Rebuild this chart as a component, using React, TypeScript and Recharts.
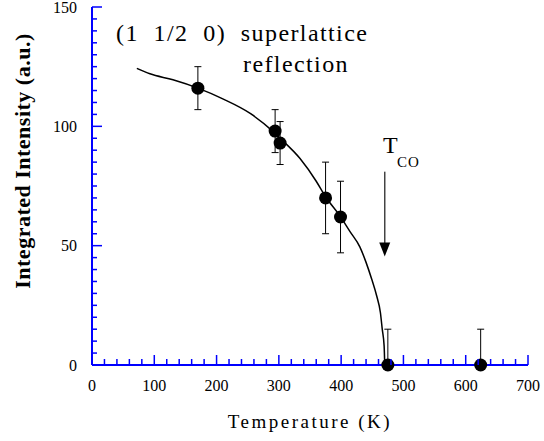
import { ComposedChart, Line, Scatter, ErrorBar, XAxis, YAxis, ReferenceLine } from 'recharts';

// fitted curve (temperature K, intensity a.u.)
const curveT = [72, 93, 130, 170, 210, 254, 290, 300, 334, 360, 375, 398, 414, 430, 440, 449, 457, 463, 466, 469, 470];
const curveI = [124.3, 122, 119.5, 116, 111.5, 105.4, 98, 95.5, 86.5, 77, 70.5, 62.5, 56, 49.5, 43, 36, 29, 22, 15, 8, 0];

// measured points
const pointT = [170, 294, 302, 375, 399, 475, 624];
const pointI = [116, 98, 93, 70, 62, 0, 0];
const errLow = [9, 9, 9, 15, 15, 0, 0];
const errHigh = [9, 9, 9, 15, 15, 15, 15];

const xTicks = Array.from({ length: 36 }, (_, k) => k * 20);
const yTicks = Array.from({ length: 31 }, (_, k) => k * 5);

const TC = 470;

const curve = curveT.map((t, k) => ({ t, i: curveI[k] }));
const points = pointT.map((t, k) => ({ t, i: pointI[k], err: [errLow[k], errHigh[k]] }));

const BLUE = '#0000ff';
const serif = { fontFamily: "'Liberation Serif', 'Times New Roman', serif" };

const XTick = (props: any) => {
  const { x, y, payload } = props;
  const major = payload.value % 100 === 0;
  return (
    <g>
      <line x1={x} y1={y} x2={x} y2={y - (major ? 10 : 6)} stroke={BLUE} strokeWidth={1.5} />
      {major && (
        <text x={x} y={y + 26} textAnchor="middle" fontSize={16} style={serif} fill="#000">
          {payload.value}
        </text>
      )}
    </g>
  );
};

const YTick = (props: any) => {
  const { x, y, payload } = props;
  const major = payload.value % 50 === 0;
  return (
    <g>
      <line x1={x} y1={y} x2={x + (major ? 10 : 5)} y2={y} stroke={BLUE} strokeWidth={1.5} />
      {major && (
        <text x={x - 15} y={y + 5.5} textAnchor="end" fontSize={16} style={serif} fill="#000">
          {payload.value}
        </text>
      )}
    </g>
  );
};

const Arrow = (props: any) => {
  const { x1, y1, x2, y2 } = props;
  return (
    <g>
      <line x1={x1} y1={y1} x2={x2} y2={y2 - 12} stroke="#444" strokeWidth={1.5} />
      <polygon points={`${x2 - 5.5},${y2 - 14} ${x2 + 5.5},${y2 - 14} ${x2},${y2}`} fill="#000" />
    </g>
  );
};

export default function App() {
  return (
    <div style={{ position: 'absolute', left: 0, top: 0, background: '#fff' }}>
      <ComposedChart width={544} height={441} margin={{ top: 7, right: 16, left: 0, bottom: 0 }}>
        <XAxis
          xAxisId="b"
          dataKey="t"
          type="number"
          domain={[0, 700]}
          ticks={xTicks}
          interval={0}
          tickSize={0}
          tickMargin={0}
          tickLine={false}
          tick={<XTick />}
          height={76}
          axisLine={{ stroke: BLUE, strokeWidth: 2 }}
        />
        <XAxis xAxisId="top" orientation="top" type="number" domain={[0, 700]} height={0} tick={false} tickLine={false} axisLine={{ stroke: BLUE, strokeWidth: 2 }} />
        <YAxis
          yAxisId="l"
          type="number"
          domain={[0, 150]}
          ticks={yTicks}
          interval={0}
          tickSize={0}
          tickMargin={0}
          tickLine={false}
          tick={<YTick />}
          width={92}
          axisLine={{ stroke: BLUE, strokeWidth: 2 }}
        />
        <YAxis yAxisId="r" orientation="right" type="number" domain={[0, 150]} width={0} tick={false} tickLine={false} axisLine={{ stroke: BLUE, strokeWidth: 2 }} />
        <Line
          xAxisId="b"
          yAxisId="l"
          data={curve}
          dataKey="i"
          type="monotone"
          stroke="#000"
          strokeWidth={1.5}
          dot={false}
          isAnimationActive={false}
        />
        <Scatter
          xAxisId="b"
          yAxisId="l"
          data={points}
          dataKey="i"
          isAnimationActive={false}
          shape={(p: any) => <circle cx={p.cx} cy={p.cy} r={6.5} fill="#000" />}
        >
          <ErrorBar dataKey="err" direction="y" width={3.5} stroke="#000" strokeWidth={1} />
        </Scatter>
        <ReferenceLine
          xAxisId="b"
          yAxisId="l"
          segment={[{ x: TC, y: 81 }, { x: TC, y: 45.5 }]}
          shape={<Arrow />}
        />
        <text x={116} y={41} fontSize={24} letterSpacing={1.4} style={{ ...serif, whiteSpace: 'pre' }} fill="#000">
          {'(1  1/2  0)  superlattice'}
        </text>
        <text x={243} y={72} fontSize={24} letterSpacing={1.4} style={serif} fill="#000">
          reflection
        </text>
        <text x={383} y={153} fontSize={24} style={serif} fill="#000">
          T
        </text>
        <text x={397} y={167} fontSize={15} letterSpacing={1} style={serif} fill="#000">
          CO
        </text>
        <text x={310} y={428} textAnchor="middle" fontSize={19} letterSpacing={2.5} style={serif} fill="#000">
          Temperature (K)
        </text>
        <text
          x={22}
          y={161}
          transform="rotate(-90, 22, 161)"
          textAnchor="middle"
          dominantBaseline="central"
          fontSize={22}
          letterSpacing={0.5}
          fontWeight="bold"
          style={serif}
          fill="#000"
        >
          Integrated Intensity (a.u.)
        </text>
      </ComposedChart>
    </div>
  );
}
